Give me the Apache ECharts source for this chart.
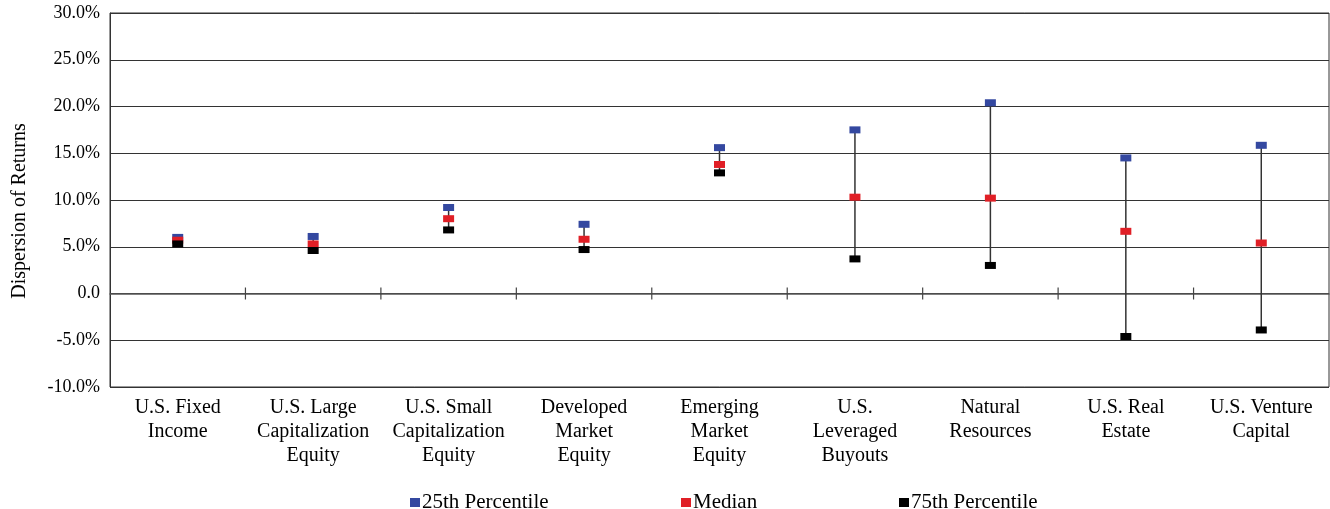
<!DOCTYPE html>
<html>
<head>
<meta charset="utf-8">
<script src="https://cdn.jsdelivr.net/npm/echarts@6/dist/echarts.min.js"></script>
<style>
  html, body { margin: 0; padding: 0; background: #fff; }
  #chart { width: 1330px; height: 509px; }
</style>
</head>
<body>
<div id="chart"></div>
<script>
  var categories = [
    'U.S. Fixed\nIncome',
    'U.S. Large\nCapitalization\nEquity',
    'U.S. Small\nCapitalization\nEquity',
    'Developed\nMarket\nEquity',
    'Emerging\nMarket\nEquity',
    'U.S.\nLeveraged\nBuyouts',
    'Natural\nResources',
    'U.S. Real\nEstate',
    'U.S. Venture\nCapital'
  ]
  var p25 = [6.0, 6.1, 9.2, 7.4, 15.6, 17.5, 20.4, 14.5, 15.85]
  var median = [5.7, 5.3, 8.0, 5.8, 13.8, 10.3, 10.2, 6.65, 5.4]
  var p75 = [5.3, 4.6, 6.8, 4.7, 12.9, 3.7, 3.0, -4.6, -3.9]

  var font = '"Liberation Serif", "DejaVu Serif", serif'

  // 25th-75th range as a vertical line per category
  var rangeData = categories.map(function (c, i) { return [i, p25[i], p75[i]] })
  // tick marks crossing the zero line, between categories
  var tickData = categories.slice(1).map(function (c, i) { return [i, 0] })

  var option = {
    animation: false,
    textStyle: { fontFamily: font, color: '#000' },
    grid: {
      left: 110, right: 1, top: 13, bottom: 122,
      outerBoundsMode: 'none',
      show: true, borderColor: '#333', borderWidth: 1
    },
    legend: [
      { data: ['25th Percentile'], left: 405, top: 487 },
      { data: ['Median'], left: 676, top: 487 },
      { data: ['75th Percentile'], left: 894, top: 487 }
    ].map(function (l) {
      l.icon = 'rect'
      l.itemWidth = 10
      l.itemHeight = 9
      l.itemGap = 2
      l.textStyle = { fontFamily: font, fontSize: 21, color: '#000', padding: [0, 0, 0, -3] }
      return l
    }),
    xAxis: [
      {
        type: 'category',
        data: categories,
        position: 'bottom',
        axisLine: { show: false, onZero: false },
        axisTick: { show: false },
        axisLabel: { fontFamily: font, fontSize: 20, color: '#000', lineHeight: 24, margin: 9, interval: 0 }
      },
      {
        type: 'category',
        data: categories,
        position: 'bottom',
        axisLine: { onZero: true, lineStyle: { color: '#555', width: 1.5 } },
        axisTick: { show: false },
        axisLabel: { show: false }
      }
    ],
    yAxis: {
      type: 'value',
      min: -10,
      max: 30,
      interval: 5,
      name: 'Dispersion of Returns',
      nameLocation: 'middle',
      nameGap: 80,
      nameTextStyle: { fontFamily: font, fontSize: 20, color: '#000', padding: [0, 22, 0, 0] },
      axisLine: { show: true, lineStyle: { color: '#333' } },
      axisTick: { show: false },
      axisLabel: {
        fontFamily: font, fontSize: 18, color: '#000', margin: 10,
        formatter: function (v) { return v === 0 ? '0.0' : v.toFixed(1) + '%' }
      },
      splitLine: { lineStyle: { color: '#333', width: 1.2 } }
    },
    series: [
      {
        type: 'custom',
        data: rangeData,
        renderItem: function (params, api) {
          var a = api.coord([api.value(0), api.value(1)])
          var b = api.coord([api.value(0), api.value(2)])
          return {
            type: 'line',
            shape: { x1: a[0], y1: a[1], x2: b[0], y2: b[1] },
            style: { stroke: '#333', lineWidth: 1.5 }
          }
        },
        z: 1
      },
      {
        type: 'custom',
        data: tickData,
        silent: true,
        renderItem: function (params, api) {
          var p = api.coord([api.value(0), api.value(1)])
          var x = p[0] + api.size([1, 0])[0] / 2
          return {
            type: 'line',
            shape: { x1: x, y1: p[1] - 6, x2: x, y2: p[1] + 6 },
            style: { stroke: '#444', lineWidth: 1.2 }
          }
        },
        z: 1
      },
      {
        name: '25th Percentile', type: 'scatter', data: p25,
        symbol: 'rect', symbolSize: [11, 7],
        itemStyle: { color: '#3448a0', opacity: 1 }, z: 2
      },
      {
        name: 'Median', type: 'scatter', data: median,
        symbol: 'rect', symbolSize: [11, 7],
        itemStyle: { color: '#e01f26', opacity: 1 }, z: 3
      },
      {
        name: '75th Percentile', type: 'scatter', data: p75,
        symbol: 'rect', symbolSize: [11, 7],
        itemStyle: { color: '#000', opacity: 1 }, z: 4
      }
    ]
  }

  var chart = echarts.init(document.getElementById('chart'))
  chart.setOption(option)
  window.addEventListener('resize', function () { chart.resize() })
</script>
</body>
</html>
